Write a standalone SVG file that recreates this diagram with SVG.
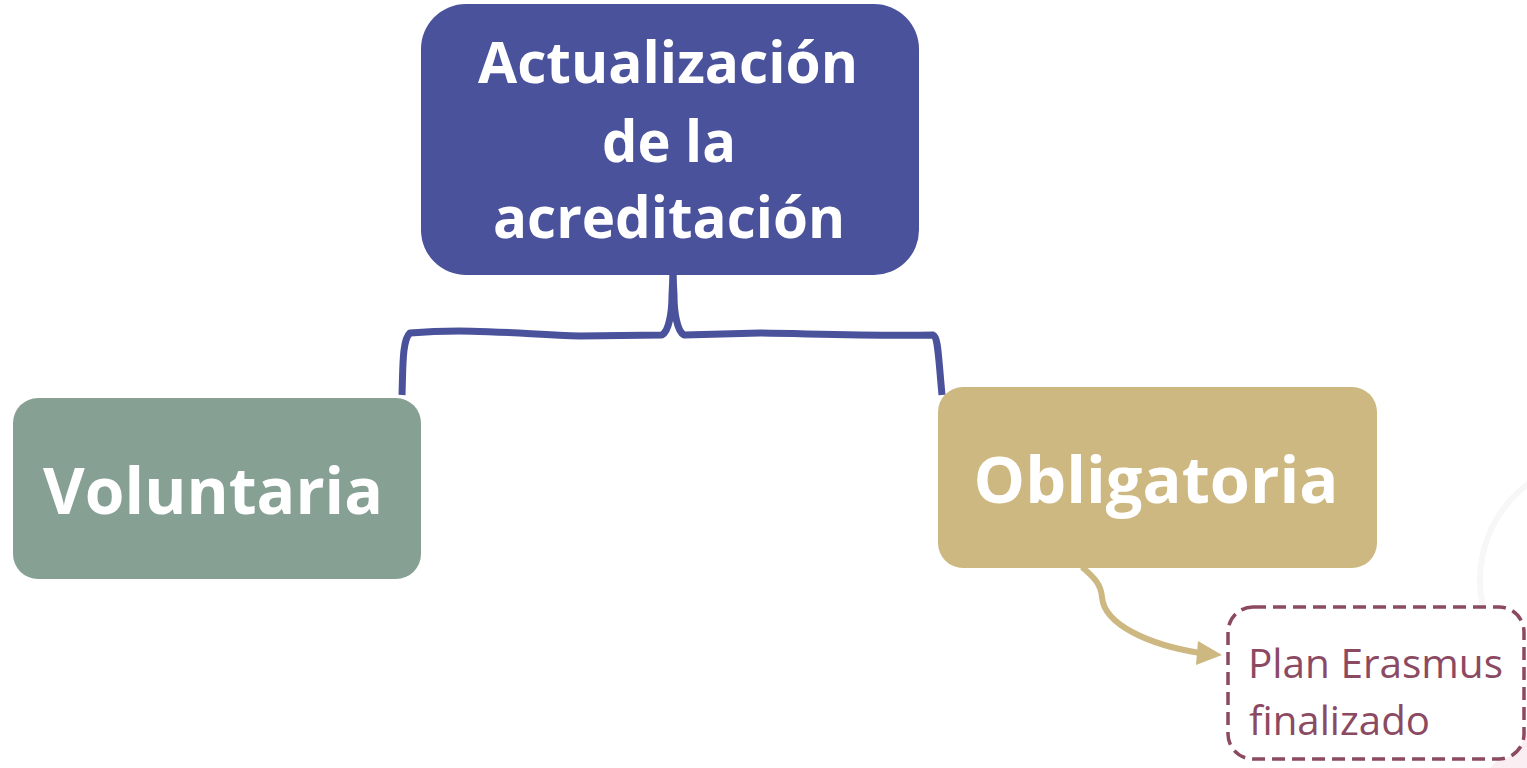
<svg xmlns="http://www.w3.org/2000/svg" width="1527" height="768" viewBox="0 0 1527 768">
<defs>
<style>
.box-text{font-family:"Open Sans","Noto Sans",sans-serif;font-weight:700;fill:#ffffff;text-anchor:middle}
.sub-text{font-family:"Open Sans","Noto Sans",sans-serif;font-weight:400;fill:#8B4A62}
.brace{fill:none;stroke:#4A529C;stroke-width:7;stroke-linejoin:round;stroke-linecap:butt}
.arrow{fill:none;stroke:#CDB882;stroke-width:6}
</style>
</defs>
<rect width="1527" height="768" fill="#ffffff"/>
<g id="background-decor">
<circle cx="1600" cy="580" r="120" fill="none" stroke="#f7f7f8" stroke-width="6"/>
<path d="M1490 768 L1527 730 L1527 768 Z" fill="#fbeef3"/>
</g>
<g id="connectors">
<path class="brace" d="M402 395 C403 368 402 340 410 333 C470 328 520 334 580 336 L662 335 C669 331 672 312 672 295 L673 275"/>
<path class="brace" d="M673 275 L674 295 C674 312 677 331 684 335 L760 333 C820 334 870 336 933 335 C938 337 938 352 942 395"/>
<path class="arrow" d="M1082 567 C1095 578 1101 585 1102 597 C1104 625 1150 645 1200 653"/>
<polygon points="1222,655 1198,641 1196,665" fill="#CDB882"/>
</g>
<g id="node-actualizacion">
<rect x="421" y="4" width="498" height="271" rx="45" fill="#4A529C"/>
<text class="box-text" x="668" y="83" font-size="58" textLength="380" lengthAdjust="spacingAndGlyphs">Actualización</text>
<text class="box-text" x="669" y="162" font-size="58" textLength="134" lengthAdjust="spacingAndGlyphs">de la</text>
<text class="box-text" x="669" y="238" font-size="58" textLength="352" lengthAdjust="spacingAndGlyphs">acreditación</text>
</g>
<g id="node-voluntaria">
<rect x="13" y="398" width="408" height="181" rx="25" fill="#87A094"/>
<text class="box-text" x="213" y="514" font-size="64" textLength="340" lengthAdjust="spacingAndGlyphs">Voluntaria</text>
</g>
<g id="node-obligatoria">
<rect x="938" y="387" width="439" height="181" rx="25" fill="#CDB882"/>
<text class="box-text" x="1156" y="503" font-size="64" textLength="365" lengthAdjust="spacingAndGlyphs">Obligatoria</text>
</g>
<g id="node-plan">
<rect x="1228" y="607" width="296" height="152" rx="25" fill="#ffffff" stroke="#8B4A62" stroke-width="3.5" stroke-dasharray="13 7"/>
<text class="sub-text" x="1248" y="678" font-size="41" textLength="255" lengthAdjust="spacingAndGlyphs">Plan Erasmus</text>
<text class="sub-text" x="1249" y="735" font-size="41" textLength="181" lengthAdjust="spacingAndGlyphs">finalizado</text>
</g>
</svg>
